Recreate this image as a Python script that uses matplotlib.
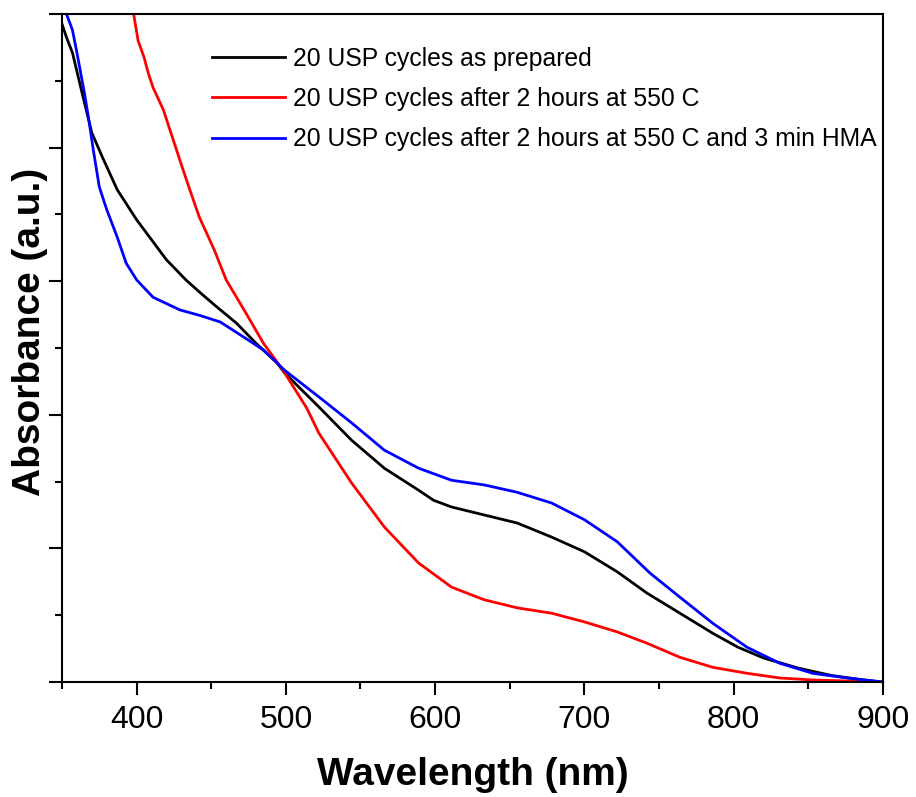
import matplotlib
matplotlib.use("Agg")
import matplotlib.pyplot as plt
import numpy as np
from matplotlib.ticker import MultipleLocator, NullFormatter

plt.rcParams['font.family'] = ['Liberation Sans', 'DejaVu Sans']

# valeurs (absorbance normalisee, unites arbitraires)
wl_black = [350, 353, 357, 363, 370, 377, 387, 400, 410, 420, 433, 443, 454, 467, 480, 494,
            499, 522, 544, 566, 589, 599, 611, 633, 655, 678, 700, 722, 742, 764, 786,
            803, 820, 843, 865, 887, 900]
abs_black = [0.985, 0.965, 0.942, 0.886, 0.822, 0.786, 0.737, 0.692, 0.662, 0.632, 0.602, 0.582,
             0.561, 0.537, 0.507, 0.478, 0.463, 0.412, 0.362, 0.320, 0.287, 0.272, 0.262,
             0.250, 0.238, 0.217, 0.195, 0.165, 0.133, 0.103, 0.073, 0.052, 0.036, 0.021,
             0.010, 0.003, 0.0]

wl_red = [395, 398, 401, 405, 408, 411, 418, 423, 429, 435, 442, 452, 460, 472, 485, 498,
          514, 522, 544, 566, 589, 611, 633, 655, 678, 700, 722, 742, 764, 786, 809, 831,
          853, 900]
abs_red = [1.05, 1.0, 0.96, 0.935, 0.91, 0.89, 0.856, 0.822, 0.781, 0.741, 0.696, 0.647,
           0.602, 0.557, 0.507, 0.467, 0.410, 0.373, 0.298, 0.232, 0.178, 0.142, 0.123,
           0.111, 0.103, 0.090, 0.075, 0.058, 0.037, 0.022, 0.013, 0.006, 0.003, 0.0]

wl_blue = [350, 353, 357, 360, 365, 368, 371, 375, 380, 387, 393, 400, 411, 429, 442, 456,
           472, 485, 499, 522, 544, 566, 589, 611, 633, 655, 678, 700, 722, 744, 764, 786,
           809, 831, 853, 876, 900]
abs_blue = [1.06, 1.0, 0.976, 0.942, 0.882, 0.841, 0.796, 0.741, 0.707, 0.666, 0.627, 0.602,
            0.576, 0.557, 0.549, 0.539, 0.516, 0.497, 0.467, 0.427, 0.388, 0.347, 0.320,
            0.302, 0.295, 0.284, 0.268, 0.243, 0.210, 0.163, 0.127, 0.088, 0.052, 0.028,
            0.013, 0.006, 0.0]

labels = ['20 USP cycles as prepared',
          '20 USP cycles after 2 hours at 550 C',
          '20 USP cycles after 2 hours at 550 C and 3 min HMA']

fig = plt.figure(figsize=(9.16, 7.97), dpi=100)
ax = fig.add_axes([0.0677, 0.1443, 0.8961, 0.8381])

ax.plot(wl_black, abs_black, color='black', lw=2, label=labels[0])
ax.plot(wl_red, abs_red, color='#ff0000', lw=2, label=labels[1])
ax.plot(wl_blue, abs_blue, color='#0000ff', lw=2, label=labels[2])

ax.set_xlim(350, 900)
ax.set_ylim(0, 1.0)

ax.xaxis.set_major_locator(MultipleLocator(100))
ax.xaxis.set_minor_locator(MultipleLocator(50))
ax.yaxis.set_major_locator(MultipleLocator(0.2))
ax.yaxis.set_minor_locator(MultipleLocator(0.1))
ax.yaxis.set_major_formatter(NullFormatter())

ax.tick_params(which='major', direction='out', length=9.5, width=1.5, labelsize=23, pad=7)
ax.tick_params(which='minor', direction='out', length=5, width=1.5)
for s in ax.spines.values():
    s.set_linewidth(1.5)

ax.set_xlabel('Wavelength (nm)', fontsize=28, fontweight='bold')
ax.set_ylabel('Absorbance (a.u.)', fontsize=28, fontweight='bold')
ax.xaxis.set_label_coords(0.5, -0.113)
ax.yaxis.set_label_coords(-0.017, 0.524)

ax.legend(loc='upper left', bbox_to_anchor=(0.183, 0.951), frameon=False, fontsize=17.8,
          handlelength=2.95, handletextpad=0.32, labelspacing=0.66, borderpad=0,
          borderaxespad=0)

fig.savefig('out.png', dpi=100)
